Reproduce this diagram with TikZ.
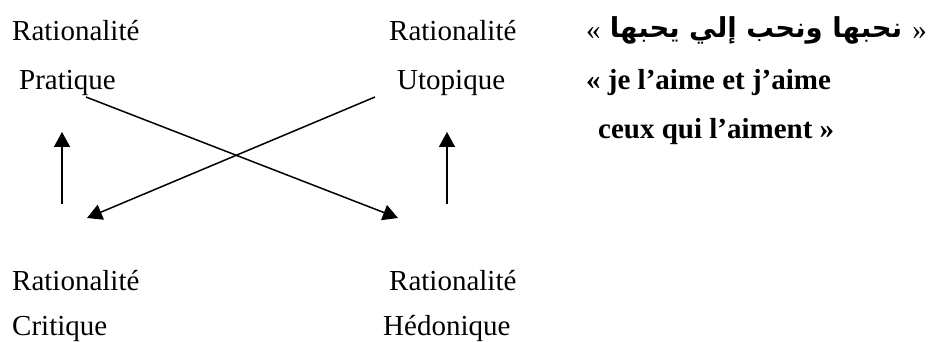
\documentclass[tikz,border=0pt]{standalone}
\usepackage{fontspec}
\setmainfont{Liberation Serif}
\newfontfamily\arabicfont[Script=Arabic]{DejaVu Sans}
\TeXXeTstate=1
\usetikzlibrary{arrows.meta}
\begin{document}
\begin{tikzpicture}[x=1pt,y=-1pt,
  lbl/.style={anchor=base west,inner sep=0pt,font=\fontsize{29}{35}\selectfont},
  bold/.style={anchor=base west,inner sep=0pt,font=\fontsize{29}{35}\selectfont\bfseries},
  conn/.style={line width=1.5pt,-{Triangle[length=15pt,width=16pt]}}]
\useasboundingbox (0,0) rectangle (932,342);
% left column
\node[lbl] (r1) at (12,41) {Rationalité};
\node[lbl] (prat) at (19,90) {Pratique};
\node[lbl] (r3) at (12,290) {Rationalité};
\node[lbl] (crit) at (12,335) {Critique};
% right column
\node[lbl] (r2) at (389,41) {Rationalité};
\node[lbl] (utop) at (397,90) {Utopique};
\node[lbl] (r4) at (389,290) {Rationalité};
\node[lbl] (hedo) at (383,335) {Hédonique};
% quotes
\node[lbl] (gl) at (586,40) {«};
\node[anchor=base,inner sep=0pt,font=\arabicfont\bfseries\fontsize{27.5}{33}\selectfont] (ar) at (756,38) {\beginR نحبها ونحب إلي يحبها\endR};
\node[lbl,anchor=base east] (gr) at (927,40) {»};
\node[bold] (fr1) at (586,90) {« je l’aime et j’aime};
\node[bold] (fr2) at (598,139) {ceux qui l’aiment »};
% connector ends
\coordinate (a1s) at (86,97);
\coordinate (a1e) at (398,218);
\coordinate (a2s) at (375,97);
\coordinate (a2e) at (87,218);
\coordinate (u1s) at (62,204);
\coordinate (u1e) at (62,132);
\coordinate (u2s) at (447,204);
\coordinate (u2e) at (447,132);
\draw[conn] (a1s) -- (a1e);
\draw[conn] (a2s) -- (a2e);
\draw[conn] (u1s) -- (u1e);
\draw[conn] (u2s) -- (u2e);
\end{tikzpicture}
\end{document}
